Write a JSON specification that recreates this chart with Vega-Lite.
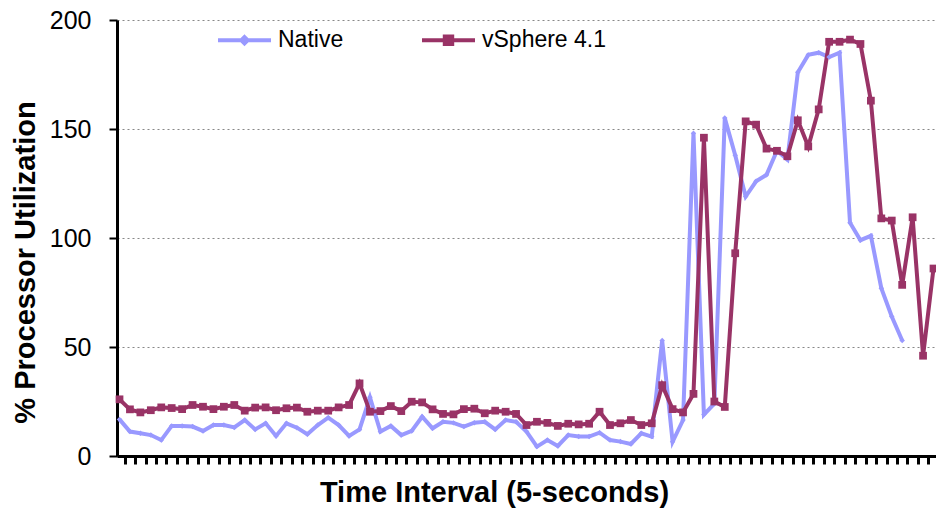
{
  "$schema": "https://vega.github.io/schema/vega-lite/v6.json",
  "width": 819,
  "height": 436,
  "autosize": {"type": "none"},
  "padding": {"left": 117, "top": 20, "right": 0, "bottom": 52},
  "background": "#ffffff",
  "config": {"view": {"stroke": null}},
  "data": {
    "values": [
      {"t":0,"series":"Native","value":16.8},{"t":1,"series":"Native","value":11.2},{"t":2,"series":"Native","value":10.4},{"t":3,"series":"Native","value":9.6},{"t":4,"series":"Native","value":7.3},{"t":5,"series":"Native","value":13.8},{"t":6,"series":"Native","value":13.8},{"t":7,"series":"Native","value":13.5},{"t":8,"series":"Native","value":11.5},{"t":9,"series":"Native","value":14.2},
      {"t":10,"series":"Native","value":14.2},{"t":11,"series":"Native","value":13.1},{"t":12,"series":"Native","value":16.5},{"t":13,"series":"Native","value":12.2},{"t":14,"series":"Native","value":15},{"t":15,"series":"Native","value":9.2},{"t":16,"series":"Native","value":15},{"t":17,"series":"Native","value":13},{"t":18,"series":"Native","value":10},{"t":19,"series":"Native","value":14.2},
      {"t":20,"series":"Native","value":17.6},{"t":21,"series":"Native","value":14.2},{"t":22,"series":"Native","value":9.2},{"t":23,"series":"Native","value":12.2},{"t":24,"series":"Native","value":26.9},{"t":25,"series":"Native","value":11.2},{"t":26,"series":"Native","value":13.8},{"t":27,"series":"Native","value":9.6},{"t":28,"series":"Native","value":11.5},{"t":29,"series":"Native","value":18},
      {"t":30,"series":"Native","value":12.7},{"t":31,"series":"Native","value":15.7},{"t":32,"series":"Native","value":15.2},{"t":33,"series":"Native","value":13.5},{"t":34,"series":"Native","value":15.3},{"t":35,"series":"Native","value":15.7},{"t":36,"series":"Native","value":12.2},{"t":37,"series":"Native","value":16.5},{"t":38,"series":"Native","value":15.7},{"t":39,"series":"Native","value":11.2},
      {"t":40,"series":"Native","value":4.3},{"t":41,"series":"Native","value":7.3},{"t":42,"series":"Native","value":4.6},{"t":43,"series":"Native","value":9.6},{"t":44,"series":"Native","value":8.9},{"t":45,"series":"Native","value":8.9},{"t":46,"series":"Native","value":10.7},{"t":47,"series":"Native","value":7.3},{"t":48,"series":"Native","value":6.6},{"t":49,"series":"Native","value":5.5},
      {"t":50,"series":"Native","value":10.4},{"t":51,"series":"Native","value":8.9},{"t":52,"series":"Native","value":53},{"t":53,"series":"Native","value":6.5},{"t":54,"series":"Native","value":16.5},{"t":55,"series":"Native","value":148},{"t":56,"series":"Native","value":19},{"t":57,"series":"Native","value":24},{"t":58,"series":"Native","value":155},{"t":59,"series":"Native","value":138},
      {"t":60,"series":"Native","value":119},{"t":61,"series":"Native","value":126},{"t":62,"series":"Native","value":129},{"t":63,"series":"Native","value":140},{"t":64,"series":"Native","value":136},{"t":65,"series":"Native","value":176},{"t":66,"series":"Native","value":184},{"t":67,"series":"Native","value":185},{"t":68,"series":"Native","value":183},{"t":69,"series":"Native","value":185},
      {"t":70,"series":"Native","value":107},{"t":71,"series":"Native","value":99},{"t":72,"series":"Native","value":101},{"t":73,"series":"Native","value":77},{"t":74,"series":"Native","value":64},{"t":75,"series":"Native","value":53},
      {"t":0,"series":"vSphere 4.1","value":26},{"t":1,"series":"vSphere 4.1","value":21.4},{"t":2,"series":"vSphere 4.1","value":20},{"t":3,"series":"vSphere 4.1","value":21},{"t":4,"series":"vSphere 4.1","value":22.3},{"t":5,"series":"vSphere 4.1","value":22},{"t":6,"series":"vSphere 4.1","value":21.5},{"t":7,"series":"vSphere 4.1","value":23.4},{"t":8,"series":"vSphere 4.1","value":22.6},{"t":9,"series":"vSphere 4.1","value":21.5},
      {"t":10,"series":"vSphere 4.1","value":22.6},{"t":11,"series":"vSphere 4.1","value":23.4},{"t":12,"series":"vSphere 4.1","value":20.8},{"t":13,"series":"vSphere 4.1","value":22.2},{"t":14,"series":"vSphere 4.1","value":22.3},{"t":15,"series":"vSphere 4.1","value":21},{"t":16,"series":"vSphere 4.1","value":21.9},{"t":17,"series":"vSphere 4.1","value":22.2},{"t":18,"series":"vSphere 4.1","value":20.3},{"t":19,"series":"vSphere 4.1","value":20.8},
      {"t":20,"series":"vSphere 4.1","value":20.8},{"t":21,"series":"vSphere 4.1","value":22.3},{"t":22,"series":"vSphere 4.1","value":23.4},{"t":23,"series":"vSphere 4.1","value":33.3},{"t":24,"series":"vSphere 4.1","value":20.3},{"t":25,"series":"vSphere 4.1","value":20.6},{"t":26,"series":"vSphere 4.1","value":22.9},{"t":27,"series":"vSphere 4.1","value":20.6},{"t":28,"series":"vSphere 4.1","value":24.9},{"t":29,"series":"vSphere 4.1","value":24.6},
      {"t":30,"series":"vSphere 4.1","value":21.4},{"t":31,"series":"vSphere 4.1","value":19.3},{"t":32,"series":"vSphere 4.1","value":19.1},{"t":33,"series":"vSphere 4.1","value":21.5},{"t":34,"series":"vSphere 4.1","value":21.7},{"t":35,"series":"vSphere 4.1","value":19.6},{"t":36,"series":"vSphere 4.1","value":20.8},{"t":37,"series":"vSphere 4.1","value":20.3},{"t":38,"series":"vSphere 4.1","value":19.3},{"t":39,"series":"vSphere 4.1","value":14.2},
      {"t":40,"series":"vSphere 4.1","value":15.7},{"t":41,"series":"vSphere 4.1","value":15.2},{"t":42,"series":"vSphere 4.1","value":13.8},{"t":43,"series":"vSphere 4.1","value":14.8},{"t":44,"series":"vSphere 4.1","value":14.5},{"t":45,"series":"vSphere 4.1","value":14.8},{"t":46,"series":"vSphere 4.1","value":20.3},{"t":47,"series":"vSphere 4.1","value":14.2},{"t":48,"series":"vSphere 4.1","value":15},{"t":49,"series":"vSphere 4.1","value":16.5},
      {"t":50,"series":"vSphere 4.1","value":14.2},{"t":51,"series":"vSphere 4.1","value":15},{"t":52,"series":"vSphere 4.1","value":32.5},{"t":53,"series":"vSphere 4.1","value":21.5},{"t":54,"series":"vSphere 4.1","value":20},{"t":55,"series":"vSphere 4.1","value":28.5},{"t":56,"series":"vSphere 4.1","value":146},{"t":57,"series":"vSphere 4.1","value":25},{"t":58,"series":"vSphere 4.1","value":22.5},{"t":59,"series":"vSphere 4.1","value":93},
      {"t":60,"series":"vSphere 4.1","value":153.5},{"t":61,"series":"vSphere 4.1","value":152},{"t":62,"series":"vSphere 4.1","value":141},{"t":63,"series":"vSphere 4.1","value":140},{"t":64,"series":"vSphere 4.1","value":137.5},{"t":65,"series":"vSphere 4.1","value":154},{"t":66,"series":"vSphere 4.1","value":142},{"t":67,"series":"vSphere 4.1","value":159},{"t":68,"series":"vSphere 4.1","value":190},{"t":69,"series":"vSphere 4.1","value":190},
      {"t":70,"series":"vSphere 4.1","value":191},{"t":71,"series":"vSphere 4.1","value":189},{"t":72,"series":"vSphere 4.1","value":163},{"t":73,"series":"vSphere 4.1","value":109},{"t":74,"series":"vSphere 4.1","value":108},{"t":75,"series":"vSphere 4.1","value":78.5},{"t":76,"series":"vSphere 4.1","value":109.5},{"t":77,"series":"vSphere 4.1","value":46},{"t":78,"series":"vSphere 4.1","value":86}
    ]
  },
  "encoding": {
    "x": {
      "field": "t", "type": "quantitative",
      "scale": {"domain": [-0.24, 78.24], "nice": false, "zero": false},
      "axis": {
        "values": [0.5,1.5,2.5,3.5,4.5,5.5,6.5,7.5,8.5,9.5,10.5,11.5,12.5,13.5,14.5,15.5,16.5,17.5,18.5,19.5,20.5,21.5,22.5,23.5,24.5,25.5,26.5,27.5,28.5,29.5,30.5,31.5,32.5,33.5,34.5,35.5,36.5,37.5,38.5,39.5,40.5,41.5,42.5,43.5,44.5,45.5,46.5,47.5,48.5,49.5,50.5,51.5,52.5,53.5,54.5,55.5,56.5,57.5,58.5,59.5,60.5,61.5,62.5,63.5,64.5,65.5,66.5,67.5,68.5,69.5,70.5,71.5,72.5,73.5,74.5,75.5,76.5,77.5],
        "labels": false, "grid": false,
        "ticks": true, "tickSize": 8, "tickWidth": 3, "tickColor": "#000000",
        "domainColor": "#000000", "domainWidth": 3,
        "title": "Time Interval (5-seconds)",
        "titleFont": "Liberation Sans", "titleFontSize": 29, "titleFontWeight": "bold", "titleColor": "#000000",
        "titleX": 377, "titleY": 45, "titleAlign": "center", "titleBaseline": "alphabetic"
      }
    },
    "y": {
      "field": "value", "type": "quantitative",
      "scale": {"domain": [0, 200], "nice": false},
      "axis": {
        "values": [0, 50, 100, 150, 200],
        "grid": true, "gridColor": "#888888", "gridDash": [2, 3], "gridWidth": 1.2,
        "labelFont": "Liberation Sans", "labelFontSize": 25, "labelColor": "#000000", "labelPadding": 18,
        "tickSize": 8, "tickWidth": 2, "tickColor": "#000000",
        "domainColor": "#000000", "domainWidth": 3,
        "title": "% Processor Utilization",
        "titleFont": "Liberation Sans", "titleFontSize": 29, "titleFontWeight": "bold", "titleColor": "#000000",
        "titleX": -92, "titleY": 242, "titleAngle": -90, "titleAlign": "center", "titleBaseline": "middle"
      }
    }
  },
  "layer": [
    {
      "mark": {"type": "line", "strokeWidth": 4},
      "encoding": {
        "color": {
          "field": "series", "type": "nominal",
          "scale": {"domain": ["Native", "vSphere 4.1"], "range": ["#9999FF", "#993366"]},
          "legend": {
            "orient": "none", "legendX": 99, "legendY": -8.5, "direction": "horizontal", "title": null,
            "padding": 0, "symbolType": "M-1,0H1M-0.13,-0.13H0.13V0.13H-0.13Z", "symbolSize": 2809, "symbolStrokeWidth": 4,
            "labelFont": "Liberation Sans", "labelFontSize": 23, "labelColor": "#000000", "labelOffset": 5, "columnPadding": 70,
            "encode": {
              "symbols": {
                "update": {
                  "shape": {"signal": "datum.value === 'Native' ? 'M-1,0H1M0,-0.12L0.12,0L0,0.12L-0.12,0Z' : 'M-1,0H1M-0.14,-0.14H0.14V0.14H-0.14Z'"},
                  "fill": {"signal": "datum.value === 'Native' ? '#9999FF' : '#993366'"}
                }
              }
            }
          }
        }
      }
    },
    {
      "transform": [{"filter": "datum.series === 'Native'"}],
      "mark": {"type": "point", "shape": "diamond", "filled": true, "size": 30, "color": "#9999FF", "opacity": 1}
    },
    {
      "transform": [{"filter": "datum.series === 'vSphere 4.1'"}],
      "mark": {"type": "point", "shape": "square", "filled": true, "size": 60, "color": "#993366", "opacity": 1}
    }
  ]
}
